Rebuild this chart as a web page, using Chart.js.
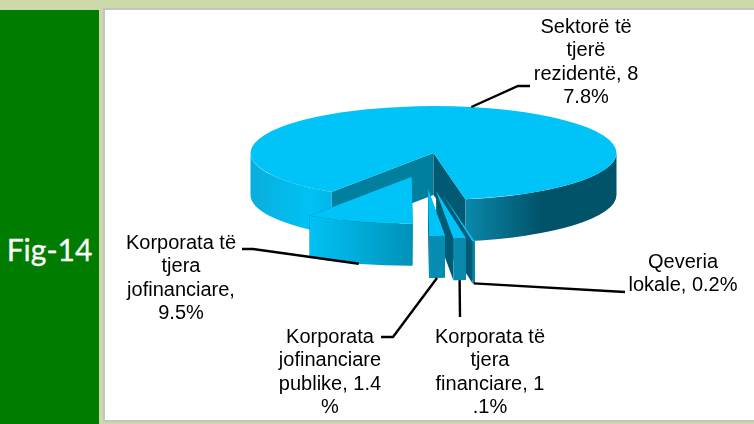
<!DOCTYPE html>
<html>
<head>
<meta charset="utf-8">
<title>Fig-14</title>
<script src="https://cdn.jsdelivr.net/npm/chart.js@4.4.0/dist/chart.umd.min.js"></script>
<style>
    html, body { margin: 0; padding: 0; width: 754px; height: 424px; overflow: hidden; background: #cdd9a8; }
    #side { position: absolute; left: 0; top: 10px; width: 99px; height: 414px; background: #007c00; }
    #side span { position: absolute; left: 0; width: 99px; top: 221px; text-align: center; color: #fff; font: 30px Lato, sans-serif; -webkit-text-stroke: 0.3px #fff; }
    #panel { position: absolute; left: 103px; top: 8px; width: 651px; height: 414px; background: #fff;
             box-sizing: border-box; border-left: 2px solid #c4c4c4; border-top: 2px solid #c4c4c4; border-bottom: 2px solid #c4c4c4; }
    canvas { position: absolute; left: 0; top: 0; }
</style>
</head>
<body>
<div id="side"><span>Fig-14</span></div>
<div id="panel"></div>
<canvas id="pie" width="754" height="424"></canvas>
<script>
const categories = [
    'Sektorë të tjerë rezidentë',
    'Qeveria lokale',
    'Korporata të tjera financiare',
    'Korporata jofinanciare publike',
    'Korporata të tjera jofinanciare',
];
const shares = [87.8, 0.2, 1.1, 1.4, 9.5];
const labelLines = [
    ['Sektorë të', 'tjerë', 'rezidentë, 8', '7.8%'],
    ['Qeveria', 'lokale, 0.2%'],
    ['Korporata të', 'tjera', 'financiare, 1', '.1%'],
    ['Korporata', 'jofinanciare', 'publike, 1.4', '%'],
    ['Korporata të', 'tjera', 'jofinanciare,', '9.5%'],
];

// layout of the fake 3D pie, in page pixels
const SQUASH = 47 / 183;
const DEPTH = 42;
const sliceCentres = [[433.5, 153], [443, 195], [436.3, 191.5], [428, 189], [411.7, 176.7]];
const labelBoxes = [[586, 27], [683, 262], [490, 337], [330, 337], [181, 243]];
const LINE_HEIGHT = 23.6;
// where each leader line goes after leaving its slice
const leaders = [
    [[518, 86], [530, 86]],
    [[625, 292]],
    [[460, 317]],
    [[393, 337], [381, 337]],
    [[253, 249], [242, 249]],
];

const TOP_COLOR = '#00c3f7';
const START_WALL = '#007f9f';
const END_WALL = '#005a74';

function wallGradient(ctx) {
    const g = ctx.createLinearGradient(251, 0, 617, 0);
    const stops = [[251, '#0aaedd'], [310, '#00c2f5'], [412, '#0092b8'], [466, '#0a88aa'], [540, '#01536a'], [617, '#01536a']];
    stops.forEach(([x, c]) => g.addColorStop((x - 251) / 366, c));
    return g;
}

function drawEdgeWall(ctx, c, r, angle, color) {
    const x = c[0] + Math.cos(angle) * r;
    const y = c[1] + Math.sin(angle) * r * SQUASH;
    ctx.fillStyle = color;
    ctx.beginPath();
    ctx.moveTo(c[0], c[1]);
    ctx.lineTo(x, y);
    ctx.lineTo(x, y + DEPTH);
    ctx.lineTo(c[0], c[1] + DEPTH);
    ctx.closePath();
    ctx.fill();
}

function drawRim(ctx, c, r, start, end) {
    // only the part of the rim facing the viewer, angle 0..PI on the canvas
    for (let k = -1; k <= 2; k++) {
        const a0 = Math.max(start, k * 2 * Math.PI);
        const a1 = Math.min(end, k * 2 * Math.PI + Math.PI);
        if (a1 <= a0) continue;
        ctx.fillStyle = wallGradient(ctx);
        ctx.beginPath();
        ctx.ellipse(c[0], c[1], r, r * SQUASH, 0, a0, a1);
        ctx.ellipse(c[0], c[1] + DEPTH, r, r * SQUASH, 0, a1, a0, true);
        ctx.closePath();
        ctx.fill();
    }
}

const pie3d = {
    id: 'pie3d',
    beforeDatasetsDraw(chart) {
        const ctx = chart.ctx;
        chart.getDatasetMeta(0).data.forEach((arc, i) => {
            const c = sliceCentres[i];
            drawEdgeWall(ctx, c, arc.outerRadius, arc.startAngle, START_WALL);
            drawEdgeWall(ctx, c, arc.outerRadius, arc.endAngle, END_WALL);
            drawRim(ctx, c, arc.outerRadius, arc.startAngle, arc.endAngle);
            ctx.save();
            ctx.translate(c[0], c[1]);
            ctx.scale(1, SQUASH);
            ctx.translate(-arc.x, -arc.y);
            arc.draw(ctx);
            ctx.restore();
        });
        return false;
    },
    afterDraw(chart) {
        const ctx = chart.ctx;
        const arcs = chart.getDatasetMeta(0).data;
        ctx.save();
        ctx.strokeStyle = '#000';
        ctx.lineWidth = 2.4;
        arcs.forEach((arc, i) => {
            const mid = (arc.startAngle + arc.endAngle) / 2;
            const c = sliceCentres[i];
            const x = c[0] + Math.cos(mid) * arc.outerRadius;
            const y = c[1] + Math.sin(mid) * arc.outerRadius * SQUASH;
            const front = Math.sin(mid) > 0 ? DEPTH : 0;
            ctx.beginPath();
            ctx.moveTo(x, y + front);
            leaders[i].forEach((p) => ctx.lineTo(p[0], p[1]));
            ctx.stroke();
        });
        ctx.fillStyle = '#000';
        ctx.font = '20px "Liberation Sans", Arial, sans-serif';
        ctx.textAlign = 'center';
        ctx.textBaseline = 'middle';
        labelLines.forEach((lines, i) => {
            lines.forEach((line, n) => {
                ctx.fillText(line, labelBoxes[i][0], labelBoxes[i][1] + n * LINE_HEIGHT);
            });
        });
        ctx.restore();
    },
};

new Chart(document.getElementById('pie'), {
    type: 'pie',
    data: {
        labels: categories,
        datasets: [{
            data: shares,
            backgroundColor: TOP_COLOR,
            borderWidth: 0,
        }],
    },
    options: {
        responsive: false,
        animation: false,
        rotation: 213.9,
        radius: 183,
        plugins: { legend: { display: false }, tooltip: { enabled: false } },
    },
    plugins: [pie3d],
});
</script>
</body>
</html>
